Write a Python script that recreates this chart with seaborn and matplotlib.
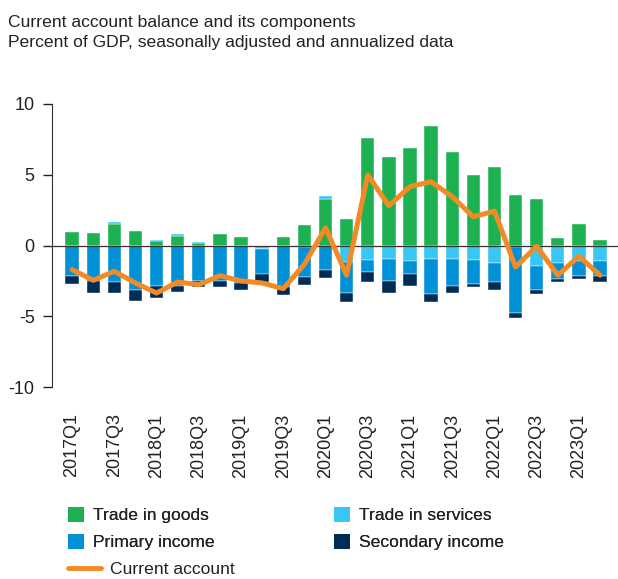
import numpy as np
import pandas as pd
import matplotlib
matplotlib.use("Agg")
import matplotlib.pyplot as plt
import seaborn as sns
from matplotlib.patches import Patch
from matplotlib.lines import Line2D

# Dados (percentual do PIB)
quarters = [f"{y}Q{q}" for y in range(2017, 2024) for q in range(1, 5)][:26]
goods = [0.94, 0.87, 1.53, 1.06, 0.33, 0.70, 0.20, 0.78, 0.59, -0.19, 0.59, 1.42, 3.28,
         1.89, 7.59, 6.26, 6.92, 8.41, 6.64, 4.96, 5.53, 3.57, 3.28, 0.52, 1.51, 0.38]
services = [-0.05, -0.05, 0.10, -0.05, 0.08, 0.10, 0.05, -0.05, -0.05, -0.07, -0.05, -0.14, 0.19,
            -1.16, -1.04, -0.97, -1.11, -0.97, -0.97, -1.04, -1.21, -0.10, -1.47, -1.21, -1.11, -1.11]
primary = [-2.10, -2.48, -2.60, -3.12, -2.89, -2.87, -2.50, -2.45, -2.60, -1.75, -2.88, -2.06, -1.75,
           -2.17, -0.83, -1.56, -0.90, -2.46, -1.92, -1.66, -1.39, -4.65, -1.70, -1.18, -1.02, -1.07]
secondary = [-0.55, -0.80, -0.73, -0.73, -0.85, -0.40, -0.46, -0.46, -0.50, -0.59, -0.59, -0.57, -0.55,
             -0.67, -0.71, -0.80, -0.85, -0.57, -0.44, -0.26, -0.55, -0.36, -0.26, -0.19, -0.26, -0.40]
current_account = [-1.70, -2.46, -1.82, -2.65, -3.36, -2.58, -2.77, -2.13, -2.50, -2.65, -3.05, -1.33, 1.25,
                   -2.10, 4.99, 2.81, 4.16, 4.51, 3.45, 2.03, 2.43, -1.52, -0.05, -2.10, -0.76, -2.10]

componentes = {
    "Trade in goods": (goods, "#1db152"),
    "Trade in services": (services, "#38c6f4"),
    "Primary income": (primary, "#0091d6"),
    "Secondary income": (secondary, "#002d56"),
}
cor_linha = "#f28a26"

sns.set_style("ticks")
plt.rcParams["font.family"] = ["Liberation Sans", "DejaVu Sans"]
plt.rcParams["axes.unicode_minus"] = False

fig = plt.figure(figsize=(6.18, 5.79), dpi=100)
ax = fig.add_axes([52 / 618, 1 - 387 / 579, 566 / 618, 283 / 579])

x = np.arange(len(quarters))
pos_base = np.zeros(len(x))
neg_base = np.zeros(len(x))
for nome, (vals, cor) in componentes.items():
    v = np.array(vals)
    base = np.where(v >= 0, pos_base, neg_base)
    ax.bar(x, v, bottom=base, width=0.63, color=cor, edgecolor="white", linewidth=0.3, zorder=2)
    pos_base += np.where(v >= 0, v, 0)
    neg_base += np.where(v < 0, v, 0)

ax.axhline(0, color="#333333", linewidth=0.9, zorder=3)

df_ca = pd.DataFrame({"x": x, "ca": current_account})
sns.lineplot(data=df_ca, x="x", y="ca", color=cor_linha, linewidth=3.6, ax=ax, zorder=4)

ax.set_xlim(-0.95, 25.85)
ax.set_ylim(-10, 10)
ax.set_yticks([-10, -5, 0, 5, 10])
ax.set_xticks(x[::2])
ax.set_xticklabels(quarters[::2], rotation=90)
ax.set_xlabel("")
ax.set_ylabel("")
ax.tick_params(axis="x", length=0, pad=19, labelsize=13, colors="#222222")
ax.tick_params(axis="y", length=6.5, width=1, labelsize=13, colors="#222222", pad=6)
for s in ["top", "right", "bottom"]:
    ax.spines[s].set_visible(False)
ax.spines["left"].set_color("#333333")
ax.grid(False)

fig.text(8 / 618, 1 - 15 / 579,
         "Current account balance and its components\nPercent of GDP, seasonally adjusted and annualized data",
         ha="left", va="top", fontsize=12.6, color="#222222", linespacing=1.42)

# ordem por colunas: goods, primary | services, secondary
ordem = ["Trade in goods", "Primary income", "Trade in services", "Secondary income"]
handles = [Patch(facecolor=componentes[n][1], edgecolor="none") for n in ordem]
leg1 = fig.legend(handles, ordem, ncol=2, loc="upper left",
                  bbox_to_anchor=(52 / 618, 1 - 491 / 579), frameon=False, fontsize=12.6,
                  handlelength=0.95, handleheight=0.95, handletextpad=0.5,
                  columnspacing=6.8, labelspacing=0.6, labelcolor="#222222")
fig.add_artist(leg1)
leg2 = fig.legend([Line2D([0], [0], color=cor_linha, linewidth=3.5)], ["Current account"],
                  loc="upper left", bbox_to_anchor=(52 / 618, 1 - 546 / 579), frameon=False,
                  fontsize=12.6, handlelength=1.9, handletextpad=0.5, labelcolor="#222222")

fig.savefig("out.png", dpi=100)
plt.close()
